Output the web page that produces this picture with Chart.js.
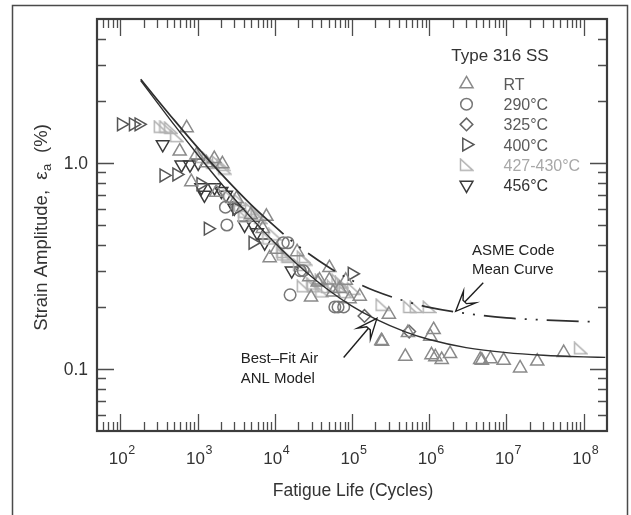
<!DOCTYPE html>
<html><head><meta charset="utf-8">
<script src="https://cdn.jsdelivr.net/npm/chart.js@4/dist/chart.umd.min.js"></script>
<style>html,body{margin:0;padding:0;background:#fff;}canvas{display:block;}</style>
</head><body>
<canvas id="c" width="631" height="515" style="width:631px;height:515px"></canvas>
<script>
// ---------- data ----------
const xTickExponents = [2, 3, 4, 5, 6, 7, 8];
const yTickValues = [1.0, 0.1];
const yTickLabels = ['1.0', '0.1'];
const legendTitle = 'Type 316 SS';
const seriesNames = ['RT', '290°C', '325°C', '400°C', '427-430°C', '456°C'];

const rtN = [724, 588, 832, 968, 1300, 1650, 2100, 1750, 3200, 4900, 7800, 8600, 7000, 1.06e4, 1.95e4, 2.95e4, 2.8e4, 3.6e4, 3.8e4, 5.1e4, 5.1e4, 5.7e4, 6.9e4, 8.3e4, 9.3e4, 1.26e5, 2.4e5, 2.45e5, 3.0e5, 4.9e5, 5.3e5, 1.03e6, 1.07e6, 1.14e6, 1.2e6, 1.45e6, 1.86e6, 4.57e6, 4.8e6, 6.2e6, 9.2e6, 1.5e7, 2.5e7, 5.5e7];
const rtE = [1.48, 1.14, 0.81, 1.09, 1.0, 1.05, 0.99, 0.72, 0.67, 0.56, 0.55, 0.346, 0.48, 0.38, 0.37, 0.223, 0.28, 0.264, 0.27, 0.31, 0.27, 0.236, 0.245, 0.269, 0.219, 0.225, 0.137, 0.136, 0.184, 0.115, 0.150, 0.144, 0.117, 0.155, 0.1145, 0.111, 0.1186, 0.111, 0.110, 0.112, 0.110, 0.101, 0.109, 0.120];

const t290N = [2300, 2400, 1.29e4, 1.48e4, 2.14e4, 2.34e4, 1.58e4, 6.0e4, 6.6e4, 7.8e4];
const t290E = [0.61, 0.50, 0.41, 0.41, 0.30, 0.30, 0.229, 0.20, 0.20, 0.20];

const t325N = [1.45e5, 5.5e5];
const t325E = [0.181, 0.152];

const t400N = [103, 147, 174, 366, 537, 1100, 1370, 3200, 5200, 1.0e5];
const t400E = [1.54, 1.54, 1.54, 0.87, 0.88, 0.79, 0.48, 0.60, 0.41, 0.29];

const t427N = [330, 390, 450, 537, 1150, 1380, 1580, 1870, 2140, 2240, 2630, 3550, 3600, 4070, 4100, 5000, 5900, 6000, 6600, 8400, 1.0e4, 1.27e4, 1.29e4, 1.48e4, 1.5e4, 2.1e4, 2.34e4, 2.34e4, 2.5e4, 3.1e4, 3.16e4, 4.0e4, 4.07e4, 4.8e4, 5.75e4, 6.6e4, 7.3e4, 7.76e4, 8.2e4, 1.05e5, 2.45e5, 5.6e5, 6.8e5, 1.0e6, 9.1e7];
const t427E = [1.50, 1.50, 1.48, 1.35, 1.07, 1.06, 1.0, 1.01, 0.98, 0.94, 0.69, 0.66, 0.62, 0.55, 0.58, 0.60, 0.58, 0.56, 0.54, 0.43, 0.45, 0.37, 0.36, 0.35, 0.355, 0.32, 0.35, 0.252, 0.34, 0.26, 0.252, 0.27, 0.238, 0.25, 0.252, 0.27, 0.263, 0.252, 0.236, 0.245, 0.205, 0.20, 0.20, 0.20, 0.126];

const t456N = [355, 620, 800, 1020, 1120, 1230, 1660, 2040, 2340, 3000, 4070, 5250, 5900, 7400, 1.66e4];
const t456E = [1.23, 0.98, 0.98, 1.0, 0.76, 0.70, 0.76, 0.73, 0.70, 0.605, 0.50, 0.50, 0.46, 0.41, 0.30];

// Best-fit air ANL model curve
const anlN = [184, 300, 500, 1000, 2000, 5000, 1e4, 2e4, 5e4, 1e5, 2e5, 5e5, 1e6, 3e6, 1e7, 3e7, 1e8, 1.9e8];
const anlE = [2.51, 1.97, 1.53, 1.10, 0.80, 0.54, 0.41, 0.32, 0.241, 0.202, 0.175, 0.151, 0.139, 0.127, 0.120, 0.1166, 0.1145, 0.1138];
// ASME code mean curve: solid part then dash-dot-dot part
const asmeSolidN = [184, 300, 500, 1000, 2000, 5000, 1.3e4];
const asmeSolidE = [2.55, 2.035, 1.614, 1.19, 0.891, 0.625, 0.451];
const asmeDashN = [1.3e4, 2e4, 5e4, 1e5, 2e5, 5e5, 1e6, 3e6, 1e7, 3e7, 1e8, 1.5e8];
const asmeDashE = [0.451, 0.396, 0.312, 0.269, 0.239, 0.213, 0.199, 0.186, 0.177, 0.173, 0.170, 0.1696];

// annotations (data coordinates)
const asmeNoteLines = ['ASME Code', 'Mean Curve'];
const asmeNoteAt = [3.57e6, 0.38];
const asmeArrowFrom = [5.0e6, 0.262];
const asmeArrowTo = [2.2e6, 0.1905];
const anlNoteLines = ['Best\u2013Fit Air', 'ANL Model'];
const anlNoteAt = [3620, 0.1137];
const anlArrowFrom = [7.8e4, 0.1138];
const anlArrowTo = [2.1e5, 0.176];

// ---------- styles ----------
const FONT = '"Liberation Sans", Arial, Helvetica, sans-serif';
const MW = 1.5;
function rightTri(color) {
  const c = document.createElement('canvas');
  c.width = 15; c.height = 14;
  const g = c.getContext('2d');
  g.strokeStyle = color; g.lineWidth = MW;
  g.beginPath(); g.moveTo(1.5, 1.2); g.lineTo(1.5, 12.6); g.lineTo(14, 12.6); g.closePath(); g.stroke();
  return c;
}
const styles = [
  {style: 'triangle', rot: 0, r: 7.6, color: '#8a8a8a', text: '#5a5a5a'},
  {style: 'circle', rot: 0, r: 5.8, color: '#777777', text: '#5a5a5a'},
  {style: 'rectRot', rot: 0, r: 6.3, color: '#666666', text: '#5a5a5a'},
  {style: 'triangle', rot: 90, r: 7.4, color: '#555555', text: '#5a5a5a'},
  {style: rightTri('#b2b2b2'), rot: 0, r: 7, color: '#b2b2b2', text: '#a8a8a8'},
  {style: 'triangle', rot: 180, r: 7.4, color: '#3a3a3a', text: '#333333'}
];
const seriesN = [rtN, t290N, t325N, t400N, t427N, t456N];
const seriesE = [rtE, t290E, t325E, t400E, t427E, t456E];

const pts = (n, e) => n.map((v, i) => ({x: v, y: e[i]}));

const datasets = [
  {data: pts(anlN, anlE), showLine: true, pointRadius: 0, borderColor: '#2e2e2e', borderWidth: 1.4, cubicInterpolationMode: 'monotone', fill: false},
  {data: pts(asmeSolidN, asmeSolidE), showLine: true, pointRadius: 0, borderColor: '#2e2e2e', borderWidth: 1.7, cubicInterpolationMode: 'monotone', fill: false},
  {data: pts(asmeDashN, asmeDashE), showLine: true, pointRadius: 0, borderColor: '#2e2e2e', borderWidth: 1.7, cubicInterpolationMode: 'monotone', fill: false, borderDash: [32, 9, 2, 9, 2, 9], borderDashOffset: 32}
];
seriesNames.forEach((name, i) => {
  const s = styles[i];
  datasets.push({
    label: name, data: pts(seriesN[i], seriesE[i]), showLine: false,
    pointStyle: s.style, pointRotation: s.rot, pointRadius: s.r,
    pointBorderColor: s.color, pointBackgroundColor: 'rgba(0,0,0,0)', pointBorderWidth: MW
  });
});

function drawMarker(ctx, s, x, y) {
  ctx.save();
  if (s.style instanceof HTMLCanvasElement) {
    ctx.drawImage(s.style, x - s.style.width / 2, y - s.style.height / 2);
    ctx.restore(); return;
  }
  ctx.strokeStyle = s.color; ctx.lineWidth = MW;
  ctx.beginPath();
  const r = s.r;
  if (s.style === 'circle') ctx.arc(x, y, r, 0, 2 * Math.PI);
  else if (s.style === 'rectRot') { ctx.moveTo(x - r, y); ctx.lineTo(x, y - r); ctx.lineTo(x + r, y); ctx.lineTo(x, y + r); ctx.closePath(); }
  else {
    let rad = s.rot * Math.PI / 180;
    for (let i = 0; i < 3; i++) {
      const px = x + Math.sin(rad) * r, py = y - Math.cos(rad) * r;
      if (i) ctx.lineTo(px, py); else ctx.moveTo(px, py);
      rad += 2 * Math.PI / 3;
    }
    ctx.closePath();
  }
  ctx.stroke();
  ctx.restore();
}

function drawArrow(ctx, x0, y0, x1, y1) {
  const dx = x1 - x0, dy = y1 - y0, L = Math.hypot(dx, dy);
  const ux = dx / L, uy = dy / L, nx = -uy, ny = ux;
  const hl = 20, hw = 8.5, back = 13;
  ctx.save();
  ctx.strokeStyle = '#1e1e1e'; ctx.lineWidth = 1.4; ctx.lineJoin = 'miter';
  ctx.beginPath(); ctx.moveTo(x0, y0); ctx.lineTo(x1 - ux * back, y1 - uy * back); ctx.stroke();
  const bx = x1 - ux * hl, by = y1 - uy * hl;
  const nxp = x1 - ux * back, nyp = y1 - uy * back;
  ctx.beginPath();
  ctx.moveTo(x1, y1);
  ctx.lineTo(bx + nx * hw, by + ny * hw);
  ctx.lineTo(nxp + nx * 2.4, nyp + ny * 2.4);
  ctx.lineTo(nxp - nx * 2.4, nyp - ny * 2.4);
  ctx.lineTo(bx - nx * hw, by - ny * hw);
  ctx.closePath();
  ctx.fillStyle = '#fff'; ctx.fill(); ctx.stroke();
  ctx.restore();
}

const decor = {
  id: 'decor',
  beforeDraw(chart) {
    const ctx = chart.ctx;
    ctx.save();
    ctx.strokeStyle = '#4a4a4a'; ctx.lineWidth = 1.5;
    ctx.beginPath(); ctx.moveTo(12.5, 515); ctx.lineTo(12.5, 5.5); ctx.lineTo(627.5, 5.5); ctx.lineTo(627.5, 515); ctx.stroke();
    ctx.restore();
  },
  afterDatasetsDraw(chart) {
    const ctx = chart.ctx, a = chart.chartArea, xs = chart.scales.x, ys = chart.scales.y;
    ctx.save();
    // ticks
    ctx.strokeStyle = '#4d4d4d'; ctx.lineWidth = 1.3;
    const MAJ = 17, MIN = 9;
    ctx.beginPath();
    for (let e = 1; e <= 8; e++) for (let m = 1; m <= 9; m++) {
      const v = m * Math.pow(10, e);
      if (v <= xs.min * 1.001 || v >= xs.max * 0.999) continue;
      const px = Math.round(xs.getPixelForValue(v)) + 0.5, L = m === 1 ? MAJ : MIN;
      ctx.moveTo(px, a.bottom); ctx.lineTo(px, a.bottom - L);
      ctx.moveTo(px, a.top); ctx.lineTo(px, a.top + L);
    }
    for (let e = -2; e <= 0; e++) for (let m = 1; m <= 9; m++) {
      const v = m * Math.pow(10, e);
      if (v <= ys.min * 1.001 || v >= ys.max * 0.999) continue;
      const py = Math.round(ys.getPixelForValue(v)) + 0.5, L = m === 1 ? MAJ : MIN;
      ctx.moveTo(a.left, py); ctx.lineTo(a.left + L, py);
      ctx.moveTo(a.right, py); ctx.lineTo(a.right - L, py);
    }
    ctx.stroke();
    // frame
    ctx.strokeStyle = '#3c3c3c'; ctx.lineWidth = 2.2;
    ctx.strokeRect(a.left, a.top, a.right - a.left, a.bottom - a.top);

    // x tick labels
    ctx.fillStyle = '#333';
    ctx.textBaseline = 'alphabetic'; ctx.textAlign = 'left';
    xTickExponents.forEach(k => {
      const px = xs.getPixelForValue(Math.pow(10, k));
      ctx.font = '17px ' + FONT; const w1 = ctx.measureText('10').width;
      ctx.font = '12.5px ' + FONT; const w2 = ctx.measureText(String(k)).width;
      const x0 = px - (w1 + w2) / 2 + 1.5;
      ctx.font = '17px ' + FONT; ctx.fillText('10', x0, a.bottom + 32.5);
      ctx.font = '12.5px ' + FONT; ctx.fillText(String(k), x0 + w1 + 0.5, a.bottom + 23);
    });
    // y tick labels
    ctx.font = '17.5px ' + FONT; ctx.textAlign = 'right';
    yTickValues.forEach((v, i) => {
      ctx.fillText(yTickLabels[i], a.left - 9, ys.getPixelForValue(v) + 6);
    });
    // x title
    ctx.font = '17.5px ' + FONT; ctx.textAlign = 'center';
    ctx.fillText('Fatigue Life (Cycles)', (a.left + a.right) / 2 + 1, a.bottom + 65);
    // y title
    ctx.save();
    ctx.translate(40, 228); ctx.rotate(-Math.PI / 2);
    ctx.textAlign = 'left';
    ctx.font = '18.5px ' + FONT;
    const t1 = 'Strain Amplitude,  \u03b5', t3 = '  (%)';
    const w1 = ctx.measureText(t1).width, w3 = ctx.measureText(t3).width;
    ctx.font = '13px ' + FONT; const w2 = ctx.measureText('a').width;
    let x0 = -(w1 + w2 + w3) / 2;
    ctx.font = '18.5px ' + FONT; ctx.fillText(t1, x0, 6.5);
    ctx.font = '13px ' + FONT; ctx.fillText('a', x0 + w1 + 0.5, 11);
    ctx.font = '18.5px ' + FONT; ctx.fillText(t3, x0 + w1 + w2 + 1, 6.5);
    ctx.restore();

    // legend
    ctx.textAlign = 'center'; ctx.fillStyle = '#333'; ctx.font = '17px ' + FONT;
    ctx.fillText(legendTitle, 500, 61);
    ctx.textAlign = 'left'; ctx.font = '16px ' + FONT;
    seriesNames.forEach((name, i) => {
      const yRow = 84 + i * 20.2;
      drawMarker(ctx, styles[i], 466.5, yRow);
      ctx.fillStyle = styles[i].text;
      ctx.fillText(name, 503.5, yRow + 6);
    });

    // annotations
    ctx.fillStyle = '#222'; ctx.font = '15px ' + FONT; ctx.textAlign = 'left';
    const ax = xs.getPixelForValue(asmeNoteAt[0]), ay = ys.getPixelForValue(asmeNoteAt[1]);
    asmeNoteLines.forEach((t, i) => ctx.fillText(t, ax, ay + 5.5 + i * 18.5));
    const bx = xs.getPixelForValue(anlNoteAt[0]), by = ys.getPixelForValue(anlNoteAt[1]);
    anlNoteLines.forEach((t, i) => ctx.fillText(t, bx, by + 5.5 + i * 20));
    drawArrow(ctx, xs.getPixelForValue(asmeArrowFrom[0]), ys.getPixelForValue(asmeArrowFrom[1]),
      xs.getPixelForValue(asmeArrowTo[0]), ys.getPixelForValue(asmeArrowTo[1]));
    drawArrow(ctx, xs.getPixelForValue(anlArrowFrom[0]), ys.getPixelForValue(anlArrowFrom[1]),
      xs.getPixelForValue(anlArrowTo[0]), ys.getPixelForValue(anlArrowTo[1]));
    ctx.restore();
  }
};

new Chart(document.getElementById('c'), {
  type: 'scatter',
  data: {datasets},
  options: {
    responsive: false, animation: false, devicePixelRatio: 1,
    layout: {padding: {left: 97, right: 24, top: 19, bottom: 84}},
    plugins: {legend: {display: false}, tooltip: {enabled: false}},
    scales: {
      x: {type: 'logarithmic', min: 50, max: 2e8, display: false},
      y: {type: 'logarithmic', min: 0.05, max: 5, display: false}
    }
  },
  plugins: [decor]
});
</script>
</body></html>
